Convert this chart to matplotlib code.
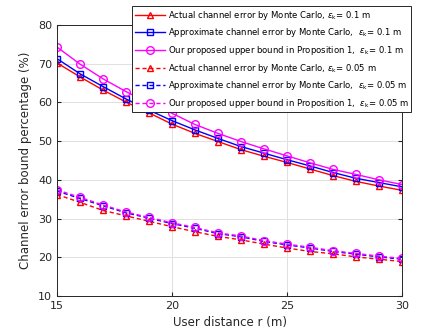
import numpy as np
import matplotlib.pyplot as plt

r = np.arange(15, 31)

# eps_k = 0.1 m
actual_01 = [70.2, 66.6, 63.2, 60.1, 57.3, 54.4, 52.0, 49.9, 47.8, 46.1, 44.5, 42.8, 41.1, 39.6, 38.4, 37.3]
approx_01 = [71.3, 67.4, 64.1, 60.9, 58.0, 55.3, 52.9, 50.7, 48.6, 46.9, 45.2, 43.6, 41.9, 40.4, 39.3, 38.2]
bound_01 = [74.3, 69.9, 66.1, 62.8, 59.8, 57.2, 54.3, 52.0, 49.9, 48.0, 46.2, 44.4, 42.7, 41.4, 40.0, 38.8]

# eps_k = 0.05 m
actual_005 = [36.2, 34.2, 32.1, 30.7, 29.3, 27.9, 26.6, 25.4, 24.5, 23.4, 22.4, 21.5, 20.9, 20.1, 19.5, 18.9]
approx_005 = [37.1, 35.2, 33.3, 31.5, 30.1, 28.7, 27.5, 26.1, 25.3, 24.1, 23.2, 22.4, 21.5, 20.8, 20.1, 19.5]
bound_005 = [37.4, 35.5, 33.5, 31.7, 30.3, 28.9, 27.7, 26.3, 25.5, 24.3, 23.4, 22.6, 21.7, 21.0, 20.3, 19.7]

labels = [
    r'Actual channel error by Monte Carlo, $\epsilon_{\rm k}$= 0.1 m',
    r'Approximate channel error by Monte Carlo,  $\epsilon_{\rm k}$= 0.1 m',
    r'Our proposed upper bound in Proposition 1,  $\epsilon_{\rm k}$= 0.1 m',
    r'Actual channel error by Monte Carlo, $\epsilon_{\rm k}$= 0.05 m',
    r'Approximate channel error by Monte Carlo,  $\epsilon_{\rm k}$= 0.05 m',
    r'Our proposed upper bound in Proposition 1,  $\epsilon_{\rm k}$= 0.05 m',
]

fig = plt.figure(figsize=(4.44, 3.33), dpi=100)
ax = fig.add_axes([57/444, 1-296/333, 345/444, 271/333])

series = [actual_01, approx_01, bound_01, actual_005, approx_005, bound_005]
colors = ['#ff0000', '#0000ff', '#ff00ff'] * 2
markers = ['^', 's', 'o'] * 2
styles = ['-'] * 3 + [(0, (3, 2))] * 3
sizes = [5, 4.5, 5.5] * 2

for y, c, m, ls, ms, lab in zip(series, colors, markers, styles, sizes, labels):
    ax.plot(r, y, color=c, marker=m, linestyle=ls, linewidth=1, markersize=ms,
            markerfacecolor='none', markeredgecolor=c, markeredgewidth=1, label=lab)

ax.set_xlim(15, 30)
ax.set_ylim(10, 80)
ax.set_xticks([15, 20, 25, 30])
ax.set_yticks(range(10, 81, 10))
ax.grid(True, color='#e0e0e0', linewidth=0.7)
ax.set_axisbelow(True)
ax.tick_params(direction='in', labelsize=8, length=3, top=True, right=True, colors='#262626')
for s in ax.spines.values():
    s.set_color('#262626')
    s.set_linewidth(0.7)
ax.set_xlabel('User distance r (m)', fontsize=8.5, color='#262626')
ax.set_ylabel('Channel error bound percentage (%)', fontsize=8.5, color='#262626')

leg = ax.legend(loc='upper left', bbox_to_anchor=(132/444, 1-6/333), bbox_transform=fig.transFigure,
                fontsize=6.1, frameon=True, fancybox=False, edgecolor='#262626', framealpha=1,
                handlelength=3.6, labelspacing=0.55, borderpad=0.3, handletextpad=0.3,
                borderaxespad=0)
leg.get_frame().set_linewidth(0.7)

fig.savefig('out.png', dpi=100)
